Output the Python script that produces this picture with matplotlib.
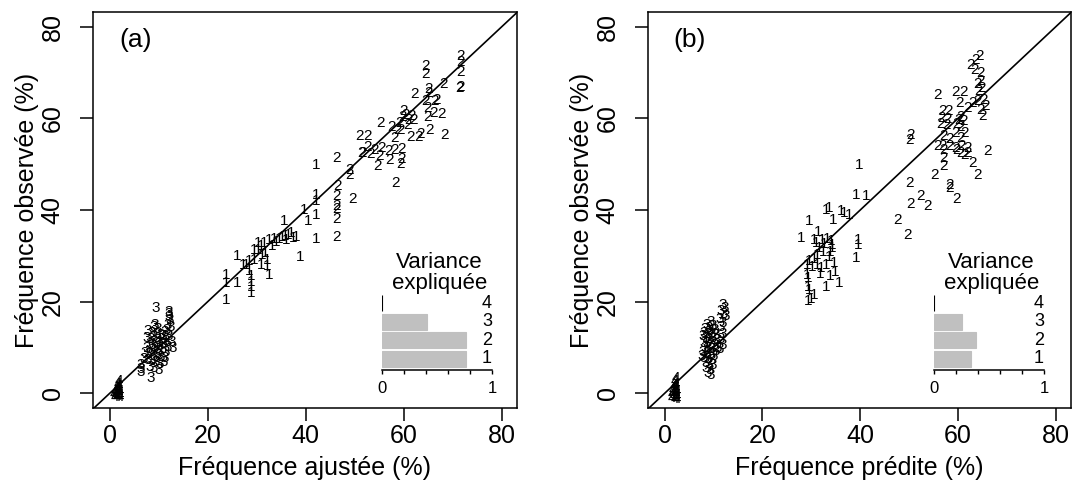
import numpy as np
import matplotlib.pyplot as plt

plt.rcParams['font.family'] = ['Liberation Sans', 'DejaVu Sans']

# ---- panel (a): fitted vs observed frequency (%) ----
a1_x = [42.1, 42.1, 42.1, 42.1, 39.7, 40.4, 35.6, 42.1, 38.9, 37.0, 38.0, 36.0, 34.6, 33.6,
        32.6, 33.2, 31.5, 30.9, 30.2, 29.5, 31.2, 32.2, 30.9, 32.2, 32.6, 29.5, 28.5, 27.9,
        27.2, 26.1, 28.5, 28.8, 28.8, 28.8, 28.8, 26.1, 23.7, 23.7, 23.7, 30.2, 34.0, 35.2,
        31.8, 36.5, 37.5, 35.8]
a1_y = [49.9, 43.3, 41.9, 39.0, 40.1, 37.5, 37.7, 33.7, 29.7, 35.0, 34.1, 33.5, 33.7, 33.7,
        33.4, 32.1, 32.8, 32.1, 31.3, 31.3, 30.2, 29.1, 28.1, 27.8, 25.9, 29.1, 28.8, 28.1,
        28.1, 29.9, 26.6, 25.5, 24.4, 23.3, 21.9, 24.1, 25.9, 24.0, 20.4, 32.8, 33.0, 34.2,
        30.6, 34.6, 33.8, 34.3]

a2_x = [71.5, 71.5, 71.5, 71.5, 68.1, 64.4, 64.4, 62.1, 65.0, 65.0, 64.5, 66.2, 64.8, 66.0,
        67.6, 64.8, 60.4, 59.8, 61.0, 60.0, 61.5, 59.2, 62.0, 60.8, 55.3, 65.2, 63.1, 61.4,
        68.3, 50.9, 52.5, 58.1, 52.5, 54.0, 55.5, 56.8, 58.2, 59.5, 53.2, 55.0, 57.0, 59.5,
        51.5, 54.7, 59.4, 58.4, 48.9, 48.9, 46.2, 51.3, 46.5, 46.2, 49.6, 46.2, 46.2, 46.2,
        46.2, 57.4, 58.7, 59.4, 63.5, 66.6, 71.3]
a2_y = [73.5, 72.4, 70.0, 66.9, 67.5, 71.4, 69.7, 65.4, 66.5, 65.6, 63.7, 63.7, 62.2, 61.2,
        61.0, 60.2, 60.8, 60.2, 59.6, 61.5, 60.5, 59.0, 59.6, 58.5, 59.0, 57.4, 56.0, 56.0,
        56.3, 56.1, 56.1, 55.7, 53.8, 53.2, 53.6, 52.8, 53.1, 53.4, 52.2, 51.8, 51.0, 51.2,
        52.5, 49.7, 50.1, 45.9, 47.7, 48.7, 51.4, 52.4, 45.2, 43.0, 42.4, 40.8, 40.3, 38.0,
        34.1, 58.2, 57.5, 57.5, 56.6, 64.0, 66.6]

a3_x = [9.4, 12.1, 12.1, 12.1, 12.2, 9.1, 11.8, 12.4, 7.8, 8.6, 9.6, 10.4, 11.3, 12.0, 7.5,
        8.3, 9.0, 9.8, 10.6, 11.4, 12.6, 8.1, 8.8, 9.5, 10.2, 11.0, 11.8, 12.9, 7.6, 8.5, 9.2,
        10.0, 10.8, 11.5, 7.2, 8.0, 8.9, 9.7, 10.5, 11.2, 7.0, 7.8, 8.6, 9.4, 10.2, 11.0, 6.4,
        6.4, 6.4, 8.2, 9.0, 8.4, 10.0, 9.6, 10.8, 9.9, 8.9, 11.6]
a3_y = [18.6, 17.8, 17.2, 16.6, 16.0, 15.0, 15.0, 14.5, 13.5, 13.2, 13.0, 12.8, 13.4, 12.6,
        12.0, 11.8, 12.2, 11.6, 11.9, 11.5, 11.2, 10.8, 10.5, 10.9, 10.4, 10.7, 10.2, 10.0,
        9.8, 9.5, 9.9, 9.2, 9.6, 9.0, 8.8, 8.5, 8.2, 8.6, 8.0, 7.8, 7.5, 7.2, 7.0, 6.8, 6.5,
        6.9, 6.2, 5.4, 4.6, 5.8, 5.5, 3.4, 5.0, 7.6, 12.4, 14.0, 14.4, 13.9]

a4_x = [1.8, 1.6, 1.9, 1.4, 1.7, 2.0, 1.1, 1.5, 1.9, 0.9, 1.3, 1.7, 2.1, 1.0, 1.5, 2.0, 1.2, 1.6]
a4_y = [2.6, 2.0, 1.6, 1.2, 0.9, 0.6, 0.5, 0.2, 0.0, -0.2, -0.4, -0.6, -0.3, -0.8, -0.9, -0.9,
        0.0, 1.5]

# ---- panel (b): predicted vs observed frequency (%) ----
b1_x = [39.8, 39.1, 41.2, 33.0, 33.7, 36.1, 36.8, 37.8, 34.4, 29.6, 27.9, 31.3, 30.6, 31.0,
        32.3, 32.7, 33.3, 34.0, 34.2, 31.6, 32.4, 33.9, 31.2, 33.6, 34.3, 39.5, 39.5, 39.1,
        29.1, 30.2, 31.2, 32.0, 33.0, 34.7, 29.1, 29.4, 31.9, 33.9, 34.8, 29.4, 29.6, 33.0,
        35.7, 29.4, 30.0, 30.6, 29.6, 30.6]
b1_y = [49.9, 43.3, 43.0, 40.1, 40.4, 39.7, 39.3, 39.0, 37.9, 37.7, 33.9, 35.3, 33.5, 32.8,
        33.4, 32.6, 33.6, 33.2, 32.4, 31.6, 30.9, 30.8, 30.2, 29.8, 31.6, 33.5, 32.4, 29.5,
        28.1, 27.6, 28.0, 27.3, 28.0, 28.4, 25.9, 25.2, 26.1, 25.5, 26.4, 23.3, 22.6, 23.3,
        24.1, 20.2, 20.6, 21.5, 28.8, 29.4]

b2_x = [64.3, 63.6, 62.6, 63.3, 64.6, 64.6, 63.9, 64.9, 64.2, 65.3, 63.9, 62.9, 65.6, 64.6,
        65.0, 55.8, 59.5, 61.2, 60.2, 61.9, 56.8, 58.0, 56.6, 57.8, 56.4, 57.6, 60.0, 59.7,
        60.5, 61.1, 60.6, 59.5, 61.3, 60.6, 58.3, 57.0, 55.8, 56.8, 58.2, 59.5, 60.8, 61.9,
        57.0, 59.6, 60.6, 62.0, 61.4, 66.0, 57.1, 57.1, 55.1, 62.9, 63.9, 50.3, 50.0, 50.0,
        58.2, 58.2, 59.6, 50.3, 52.4, 53.7, 47.6, 49.7]
b2_y = [73.5, 72.8, 71.7, 70.6, 69.9, 68.1, 67.4, 66.6, 65.9, 64.1, 63.7, 63.4, 62.6, 61.9,
        60.6, 65.0, 65.7, 65.7, 63.4, 62.3, 61.5, 61.5, 60.0, 59.9, 58.8, 58.5, 59.7, 58.8,
        60.3, 59.4, 58.2, 56.8, 56.8, 55.7, 55.5, 56.2, 53.9, 53.9, 53.9, 53.6, 53.9, 53.5,
        53.0, 53.2, 52.4, 52.5, 51.9, 52.8, 51.3, 49.5, 47.7, 50.3, 47.7, 56.4, 55.3, 45.9,
        45.5, 44.9, 42.4, 41.2, 43.0, 40.8, 37.9, 34.6]

b3_x = [11.8, 12.3, 11.4, 12.0, 12.4, 11.2, 11.8, 11.5, 11.9, 11.4, 11.8, 11.2, 9.4, 8.6,
        9.9, 8.2, 9.0, 10.2, 8.0, 8.8, 9.6, 10.4, 8.3, 9.1, 9.9, 10.6, 7.9, 8.7, 9.5, 10.3,
        8.1, 8.9, 9.7, 10.5, 7.8, 8.6, 9.4, 10.1, 8.0, 8.8, 9.6, 8.3, 9.1, 9.8, 8.5, 9.2, 8.8,
        9.5, 7.7, 10.8, 7.6, 9.3]
b3_y = [19.3, 18.6, 18.0, 17.4, 16.8, 16.2, 15.4, 14.4, 13.0, 11.8, 10.6, 9.6, 15.6, 15.0,
        14.8, 14.0, 14.2, 13.8, 13.2, 13.0, 12.9, 12.7, 12.1, 11.9, 12.0, 11.6, 11.0, 10.9,
        10.7, 10.5, 10.0, 9.8, 9.6, 9.3, 9.0, 8.7, 8.5, 8.2, 7.8, 7.5, 7.3, 6.7, 6.4, 6.1, 5.6,
        5.2, 4.5, 3.9, 12.6, 10.0, 8.2, 13.5]

b4_x = [2.3, 2.1, 2.4, 1.9, 2.2, 2.5, 1.6, 2.0, 2.4, 1.5, 1.8, 2.2, 2.6, 1.5, 2.0, 2.5, 1.7, 2.1]
b4_y = [3.3, 2.6, 2.0, 1.6, 1.1, 0.6, 0.8, 0.3, -0.1, -0.2, -0.6, -0.9, -0.5, -1.0, -1.3,
        -1.3, 0.1, 1.8]

# explained variance per axis (1..4)
var_axes = [1, 2, 3, 4]
var_a = [0.76, 0.76, 0.41, 0.004]
var_b = [0.34, 0.386, 0.255, 0.004]

ticks = [0, 20, 40, 60, 80]
W, H = 1072, 488


def px(x0, y0, x1, y1):
    return [x0 / W, 1 - y1 / H, (x1 - x0) / W, (y1 - y0) / H]


def scatter_panel(ax, groups, tag, xlabel):
    for lab, xs, ys in groups:
        for x, y in zip(xs, ys):
            ax.text(x, y, lab, ha='center', va='center', fontsize=11)
    ax.axline((0, 0), (1, 1), color='black', lw=1.2)
    ax.set_xlim(-3.4, 83.1)
    ax.set_ylim(-3.2, 83.2)
    ax.set_xticks(ticks)
    ax.set_yticks(ticks)
    ax.tick_params(direction='out', length=9.5, width=1.1, labelsize=18, pad=2)
    ax.tick_params(axis='y', labelrotation=90, pad=11)
    for t in ax.get_yticklabels():
        t.set_va('center')
    for s in ax.spines.values():
        s.set_linewidth(1.1)
    ax.text(5.2, 77.2, tag, ha='center', va='center', fontsize=19)
    ax.set_xlabel(xlabel, fontsize=18)
    ax.set_ylabel('Fréquence observée (%)', fontsize=18)
    ax.xaxis.set_label_coords(0.5, -0.12)
    ax.yaxis.set_label_coords(-0.128, 0.5)


def variance_inset(rect, vals):
    ax = fig.add_axes(rect)
    cols = ['#c0c0c0', '#c0c0c0', '#c0c0c0', 'black']
    ax.barh(var_axes, vals, height=0.85, color=cols, edgecolor=cols, lw=0.8)
    ax.set_xlim(0, 1)
    ax.set_ylim(0.41, 4.43)
    ax.patch.set_alpha(0)
    for k in ['top', 'right', 'left']:
        ax.spines[k].set_visible(False)
    ax.spines['bottom'].set_linewidth(1.1)
    ax.set_yticks([])
    ax.set_xticks([0, 0.2, 0.4, 0.6, 0.8, 1.0])
    ax.set_xticklabels(['0', '', '', '', '', '1'])
    ax.tick_params(axis='x', direction='out', length=3, width=1, labelsize=12, pad=5)
    for v in var_axes:
        ax.text(1.0, v, str(v), ha='right', va='center', fontsize=13)
    ax.text(0.52, 1.44, 'Variance', transform=ax.transAxes, ha='center', va='center', fontsize=16)
    ax.text(0.52, 1.16, 'expliquée', transform=ax.transAxes, ha='center', va='center', fontsize=16)


fig = plt.figure(figsize=(W / 100, H / 100), dpi=100)
axa = fig.add_axes(px(93, 12, 517, 408))
axb = fig.add_axes(px(648, 12, 1071, 408))

scatter_panel(axa, [('4', a4_x, a4_y), ('3', a3_x, a3_y), ('1', a1_x, a1_y), ('2', a2_x, a2_y)],
              '(a)', 'Fréquence ajustée (%)')
scatter_panel(axb, [('4', b4_x, b4_y), ('3', b3_x, b3_y), ('1', b1_x, b1_y), ('2', b2_x, b2_y)],
              '(b)', 'Fréquence prédite (%)')

variance_inset(px(382, 295, 492, 370), var_a)
variance_inset(px(934, 295, 1044, 370), var_b)

fig.savefig('out.png', dpi=100)
